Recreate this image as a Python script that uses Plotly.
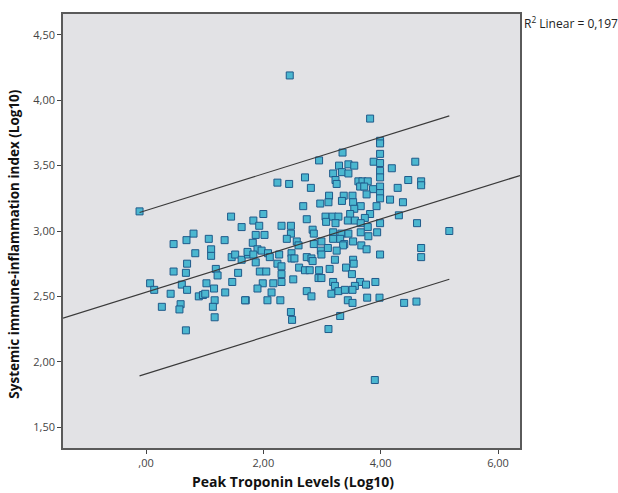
import plotly.graph_objects as go

# Peak troponin (log10) vs systemic immune-inflammation index (log10)
troponin_log = [
    -0.11, 1.45, 1.63, 0.81, 0.47, 0.69, 1.07, 1.34, 0.84, 1.11, 1.11, 0.70, 0.47, 0.68,
    1.19, 1.22, 1.46, 1.52, 1.63, 1.74, 1.57, 0.07, 0.14, 0.61, 0.70, 0.42, 1.03, 1.16,
    1.47, 0.90, 0.97, 1.01, 1.35, 1.17, 1.70, 0.27, 0.59, 0.57, 1.14, 1.17, 0.68,
    2.45, 3.82, 3.99, 3.99, 3.35, 3.99, 2.95, 3.88, 3.99, 4.59, 3.29, 3.45, 3.55, 4.19,
    3.19, 3.34, 3.45, 3.99, 2.71, 3.99, 3.23, 3.25, 3.62, 3.69, 3.78, 4.47, 4.69, 4.69,
    2.24, 2.44, 2.81, 3.65, 3.72, 3.99, 3.87, 4.29, 3.76, 3.99, 3.99, 3.12, 3.37, 3.52,
    4.16, 4.38, 2.97, 3.11, 3.34, 3.53, 3.66, 2.68, 3.93, 3.55, 3.82, 3.73, 4.31, 3.48,
    3.06, 3.18, 3.28, 2.74, 3.07, 3.23, 3.44, 3.56, 3.66, 3.78, 3.99, 4.62, 2.00, 1.83,
    1.93, 2.31, 2.47, 2.84, 1.87, 2.02, 2.47, 2.86, 3.19, 3.33, 3.45, 3.66, 3.94, 3.79,
    2.40, 2.57, 2.99, 3.19, 3.31, 3.53, 3.38, 1.82, 2.86, 2.60, 3.36, 3.67, 3.10, 1.90,
    1.73, 1.97, 2.08, 2.48, 2.98, 3.25, 3.76, 3.99, 2.27, 2.74, 2.82, 3.53, 4.69, 4.69,
    1.83, 1.87, 2.11, 2.24, 2.31, 2.48, 2.53, 2.84, 2.99, 3.22, 1.94, 2.05, 2.31, 2.61,
    2.71, 2.79, 2.95, 3.13, 3.41, 3.54, 3.51, 2.94, 2.99, 2.51, 2.17, 2.31, 1.99, 3.19,
    3.22, 3.65, 3.75, 3.91, 3.56, 1.90, 2.14, 2.74, 2.82, 3.16, 3.28, 3.39, 3.52, 1.69,
    2.07, 2.29, 3.44, 3.52, 3.77, 3.98, 4.40, 4.61, 2.47, 2.49, 3.31, 3.11, 3.90, 5.17,
]
sii_log = [
    3.15, 3.11, 3.03, 2.98, 2.90, 2.93, 2.94, 2.93, 2.83, 2.86, 2.81, 2.75, 2.69, 2.68,
    2.71, 2.66, 2.80, 2.82, 2.78, 2.82, 2.68, 2.60, 2.55, 2.59, 2.55, 2.52, 2.60, 2.56,
    2.61, 2.50, 2.51, 2.52, 2.53, 2.47, 2.47, 2.42, 2.44, 2.40, 2.42, 2.34, 2.24,
    4.19, 3.86, 3.69, 3.67, 3.60, 3.59, 3.54, 3.53, 3.52, 3.53, 3.50, 3.51, 3.50, 3.48,
    3.44, 3.45, 3.44, 3.46, 3.41, 3.41, 3.39, 3.36, 3.38, 3.38, 3.38, 3.39, 3.38, 3.35,
    3.37, 3.36, 3.33, 3.34, 3.34, 3.34, 3.32, 3.33, 3.28, 3.29, 3.25, 3.27, 3.27, 3.27,
    3.24, 3.22, 3.21, 3.22, 3.23, 3.22, 3.19, 3.19, 3.19, 3.17, 3.13, 3.10, 3.12, 3.13,
    3.11, 3.11, 3.11, 3.09, 3.07, 3.06, 3.08, 3.08, 3.06, 3.03, 3.06, 3.06, 3.13, 3.08,
    3.04, 3.04, 3.04, 3.01, 2.97, 2.97, 2.98, 2.98, 2.99, 2.98, 2.98, 2.99, 2.99, 2.96,
    2.94, 2.92, 2.92, 2.94, 2.94, 2.92, 2.90, 2.91, 2.90, 2.89, 2.89, 2.89, 2.87, 2.86,
    2.84, 2.85, 2.83, 2.83, 2.85, 2.85, 2.86, 2.82, 2.82, 2.80, 2.79, 2.78, 2.87, 2.80,
    2.82, 2.76, 2.80, 2.75, 2.73, 2.79, 2.79, 2.77, 2.82, 2.78, 2.69, 2.69, 2.67, 2.72,
    2.70, 2.70, 2.70, 2.71, 2.72, 2.75, 2.67, 2.64, 2.64, 2.63, 2.60, 2.61, 2.60, 2.61,
    2.58, 2.61, 2.59, 2.61, 2.58, 2.56, 2.53, 2.54, 2.50, 2.52, 2.54, 2.55, 2.55, 2.47,
    2.47, 2.47, 2.47, 2.45, 2.49, 2.49, 2.45, 2.46, 2.38, 2.32, 2.35, 2.25, 1.86, 3.00,
]

# Linear fit and 95% individual prediction band
fit_intercept = 2.532
fit_slope = 0.140
band_halfwidth = 0.625
r2_label = "R<sup>2</sup> Linear = 0,197"

x_range = [-1.415, 6.375]
y_range = [1.34, 4.66]
x_tickvals = [0, 2, 4, 6]
x_ticktext = [",00", "2,00", "4,00", "6,00"]
y_tickvals = [1.5, 2.0, 2.5, 3.0, 3.5, 4.0, 4.5]
y_ticktext = ["1,50", "2,00", "2,50", "3,00", "3,50", "4,00", "4,50"]

x_title = "Peak Troponin Levels (Log10)"
y_title = "Systemic immune-inflammation index (Log10)"

fig = go.Figure()

fig.add_trace(go.Scatter(
    x=troponin_log, y=sii_log, mode="markers",
    marker=dict(symbol="square", size=7, color="#4BB7D0",
                line=dict(color="#1F5A8A", width=1)),
    hoverinfo="x+y", showlegend=False,
))

# regression line across the whole axis
reg_x = x_range
reg_y = [fit_intercept + fit_slope * v for v in reg_x]
fig.add_trace(go.Scatter(x=reg_x, y=reg_y, mode="lines",
                         line=dict(color="#3a3a3a", width=1.2),
                         hoverinfo="skip", showlegend=False))

# prediction band over the observed x span
band_x = [min(troponin_log), max(troponin_log)]
for sign in (1, -1):
    band_y = [fit_intercept + fit_slope * v + sign * band_halfwidth for v in band_x]
    fig.add_trace(go.Scatter(x=band_x, y=band_y, mode="lines",
                             line=dict(color="#3a3a3a", width=1.1),
                             hoverinfo="skip", showlegend=False))

axis_common = dict(
    showgrid=False, zeroline=False, showline=True, mirror=True,
    linecolor="#5a5a5a", linewidth=1.5,
    ticks="outside", ticklen=4, tickwidth=1.2, tickcolor="#444",
    tickfont=dict(family="Open Sans", size=11, color="#444"),
)

fig.update_xaxes(range=x_range, tickvals=x_tickvals, ticktext=x_ticktext, **axis_common)
fig.update_yaxes(range=y_range, tickvals=y_tickvals, ticktext=y_ticktext, **axis_common)

fig.update_layout(
    width=618, height=493,
    margin=dict(l=63, r=98, t=12, b=45),
    paper_bgcolor="white", plot_bgcolor="#E2E2E5",
    annotations=[
        dict(text=r2_label, xref="paper", yref="paper", x=1.004, y=1.005,
             xanchor="left", yanchor="top", showarrow=False,
             font=dict(family="Open Sans", size=12, color="#222")),
        dict(text="<b>" + x_title + "</b>", xref="paper", yref="paper",
             x=0.503, y=-0.077, xanchor="center", yanchor="middle", showarrow=False,
             font=dict(family="Open Sans", size=14, color="#111")),
        dict(text="<b>" + y_title + "</b>", xref="paper", yref="paper",
             x=-0.108, y=0.47, xanchor="center", yanchor="middle", textangle=-90,
             showarrow=False,
             font=dict(family="Open Sans", size=13.5, color="#111")),
    ],
)

fig.write_html("out.html")
